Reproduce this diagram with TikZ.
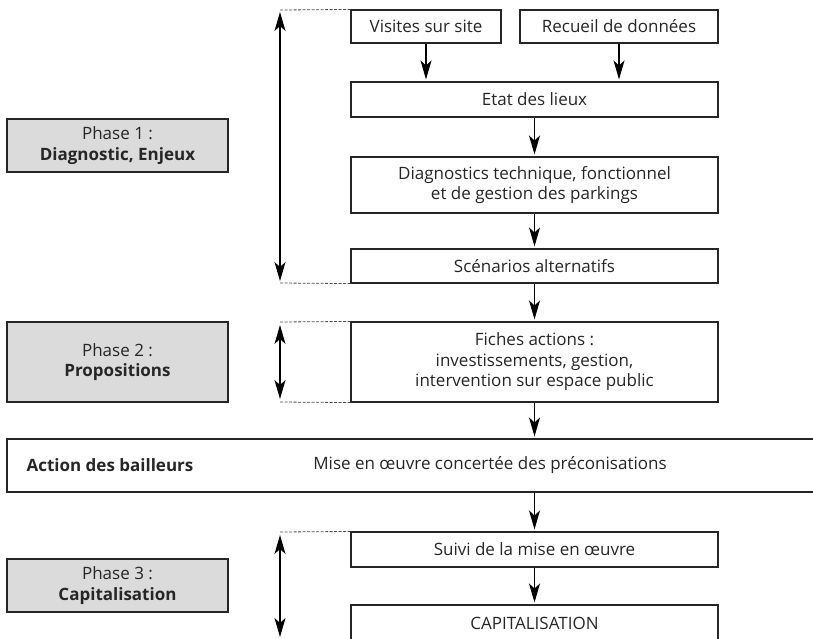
\documentclass[tikz,border=0pt]{standalone}
\usepackage{fontspec}
\setmainfont{Open Sans}
\usetikzlibrary{arrows.meta}

\begin{document}
\begin{tikzpicture}[x=1pt,y=-1pt,line width=1.2pt,>={Stealth[length=19pt,width=11pt,inset=5pt]},
  box/.style={draw=black!85,line width=1.1pt,inner sep=0pt,align=center,text=black!85,font=\fontsize{17}{20.5}\selectfont},
  phase/.style={box,fill=black!14},
  txt/.style={inner sep=0pt,text=black!85,font=\fontsize{17}{20.5}\selectfont},
  guide/.style={draw=black!70,line width=0.8pt,dash pattern=on 3pt off 1.5pt}]
\useasboundingbox (0,0) rectangle (813,638);
% phase 1
\node[box,minimum width=150,minimum height=33] (vis) at (426,26.5) {Visites sur site};
\node[box,minimum width=198,minimum height=33] (rec) at (619,26.5) {Recueil de données};
\node[box,minimum width=367,minimum height=35] (etat) at (534.5,99.5) {Etat des lieux};
\node[box,minimum width=367,minimum height=56] (diag) at (534.5,185) {Diagnostics technique, fonctionnel\\et de gestion des parkings};
\node[box,minimum width=367,minimum height=34] (scen) at (534.5,266) {Scénarios alternatifs};
% phase 2
\node[box,minimum width=367,minimum height=80] (fiche) at (534.5,362) {Fiches actions :\\investissements, gestion,\\intervention sur espace public};
\node[box,minimum width=823,minimum height=53] (band) at (418.5,465.5) {};
\node[txt,anchor=west,font=\fontsize{17}{20.5}\selectfont\bfseries] (act) at (26,465.5) {Action des bailleurs};
\node[txt] (mise) at (490,465.5) {Mise en œuvre concertée des préconisations};
% phase 3
\node[box,minimum width=367,minimum height=35] (suivi) at (534.5,549.5) {Suivi de la mise en œuvre};
\node[box,minimum width=367,minimum height=36] (capi) at (534.5,623) {CAPITALISATION};

\node[phase,minimum width=221,minimum height=53] (ph1) at (117.5,145.5) {Phase 1~:\\\textbf{Diagnostic, Enjeux}};
\node[phase,minimum width=221,minimum height=80] (ph2) at (117.5,362) {Phase 2~:\\\textbf{Propositions}};
\node[phase,minimum width=221,minimum height=53] (ph3) at (117.5,585.5) {Phase 3~:\\\textbf{Capitalisation}};

\draw[->,shorten >=2pt] (vis) -- (vis.south |- etat.north);
\draw[->,shorten >=2pt] (rec) -- (rec.south |- etat.north);
\draw[->,shorten >=2pt] (etat) -- (diag);
\draw[->,shorten >=2pt] (diag) -- (scen);
\draw[->,shorten >=2pt] (scen) -- (fiche);
\draw[->,shorten >=2pt] (fiche.south) -- (fiche.south |- band.north);
\draw[->,shorten >=2pt] (suivi.north |- band.south) -- (suivi.north);
\draw[->,shorten >=2pt] (suivi) -- (capi);

\coordinate (p1a) at (280,10);
\coordinate (p1b) at (280,283);
\coordinate (p2a) at (280,322);
\coordinate (p2b) at (280,402);
\coordinate (p3a) at (280,532);
\coordinate (p3b) at (280,639);
\draw[<->,shorten <=2pt,shorten >=2pt] (p1a) -- (p1b);
\draw[<->,shorten <=3pt,shorten >=3pt] (p2a) -- (p2b);
\draw[<->,shorten <=3pt,shorten >=2pt] (p3a) -- (p3b);
\draw[guide] (p1a) -- (vis.north west);
\draw[guide] (p1b) -- (scen.south west);
\draw[guide] (p2a) -- (fiche.north west);
\draw[guide] (p2b) -- (fiche.south west);
\draw[guide] (p3a) -- (suivi.north west);
\end{tikzpicture}
\end{document}
